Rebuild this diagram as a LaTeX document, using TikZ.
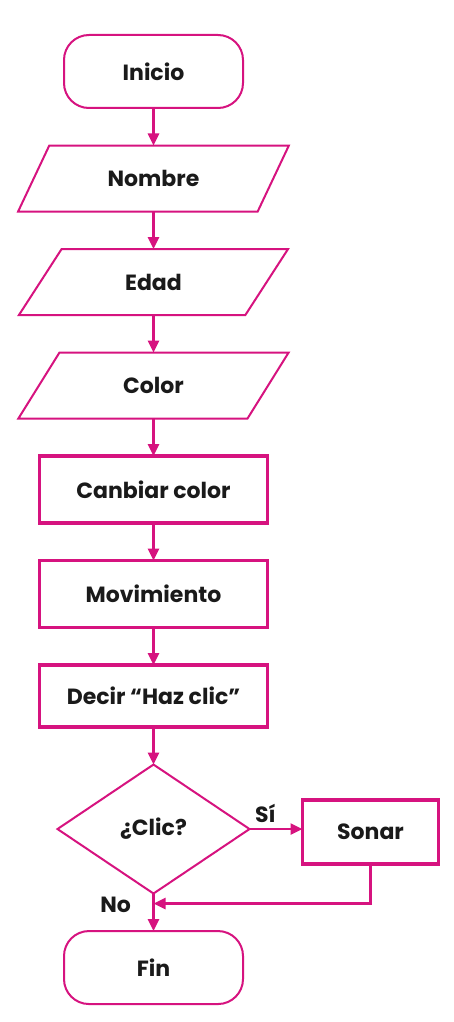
\documentclass[tikz,border=0pt]{standalone}
\usepackage{fontspec}
\setmainfont{Poppins}
\usepackage{tikz}
\usetikzlibrary{arrows.meta,positioning,shapes.geometric,calc}
\definecolor{flowpink}{HTML}{D6137F}
\definecolor{flowtext}{HTML}{1A1A1A}
\tikzset{
  termbox/.style={draw=flowpink,line width=2pt,rounded corners=25pt,align=center,outer sep=0pt,
    minimum width=179pt,minimum height=73pt,font=\fontsize{22}{25}\selectfont\bfseries,text=flowtext},
  inputbox/.style={draw=flowpink,line width=2pt,trapezium,trapezium stretches=true,outer sep=0pt,
    trapezium left angle=57.5,trapezium right angle=122.5,
    minimum width=271pt,minimum height=66pt,font=\fontsize{22}{25}\selectfont\bfseries,text=flowtext},
  procbox/.style={draw=flowpink,line width=3.2pt,align=center,outer sep=0pt,
    minimum width=228pt,minimum height=67pt,font=\fontsize{22}{25}\selectfont\bfseries,text=flowtext},
  decisionbox/.style={draw=flowpink,line width=2pt,diamond,aspect=1.49,inner sep=0pt,outer sep=0pt,
    minimum width=192pt,minimum height=129pt,font=\fontsize{22}{25}\selectfont\bfseries,text=flowtext},
  flowarrow/.style={-{Triangle[length=12pt,width=11pt]},line width=2.6pt,draw=flowpink},
  branchlabel/.style={font=\fontsize{22}{25}\selectfont\bfseries,text=flowtext}
}
\begin{document}
\begin{tikzpicture}[x=1pt,y=1pt,node distance=37.5pt and 53pt]
  \useasboundingbox (0,0) rectangle (454,-1022);
  \node[termbox] (inicio) at (153.5,-71.5) {Inicio};
  \node[inputbox,below=of inicio] (nombre) {Nombre};
  \node[inputbox,below=of nombre] (edad) {Edad};
  \node[inputbox,below=of edad] (color) {Color};
  \node[procbox,below=of color] (cambiar) {Canbiar color};
  \node[procbox,below=of cambiar] (mov) {Movimiento};
  \node[procbox,minimum height=62pt,below=of mov] (decir) {Decir “Haz clic”};
  \node[decisionbox,below=of decir] (clic) {¿Clic?};
  \node[procbox,minimum width=136pt,minimum height=64pt,right=of clic,yshift=-3pt] (sonar) {Sonar};
  \node[termbox,below=of clic] (fin) {Fin};
  \coordinate[below=10pt of clic.south] (junta);
  \draw[flowarrow] (inicio)--(nombre);
  \draw[flowarrow] (nombre)--(edad);
  \draw[flowarrow] (edad)--(color);
  \draw[flowarrow] (color)--(cambiar);
  \draw[flowarrow] (cambiar)--(mov);
  \draw[flowarrow] (mov)--(decir);
  \draw[flowarrow] (decir)--(clic);
  \draw[flowarrow] (clic.east)--node[branchlabel,above=2pt,pos=0.3] {Sí} (clic.east-|sonar.west);
  \draw[flowarrow] (clic.south)--node[branchlabel,left=18pt,pos=0.3] {No} (fin.north);
  \draw[flowarrow] (sonar.south)|-(junta);
\end{tikzpicture}
\end{document}
